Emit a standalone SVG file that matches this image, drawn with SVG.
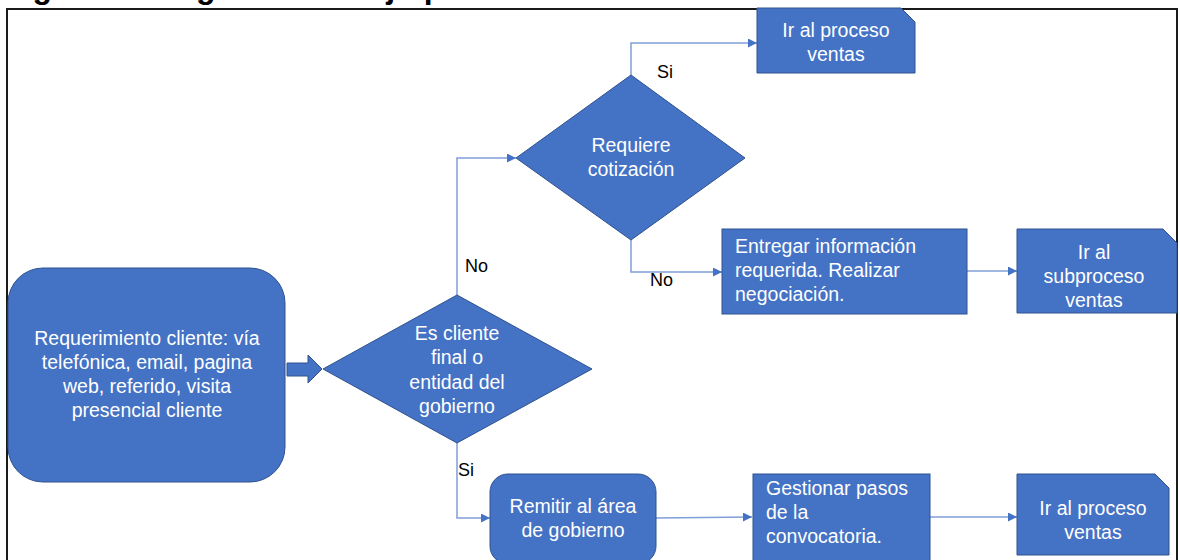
<svg xmlns="http://www.w3.org/2000/svg" width="1180" height="560" viewBox="0 0 1180 560">
  <style>
    .shape { fill: #4472C4; stroke: #2F528F; stroke-width: 1; }
    .txt { font-family: "Liberation Sans", Arial, sans-serif; font-size: 19.5px; fill: #FFFFFF; }
    .mid { text-anchor: middle; }
    .lbl { font-family: "Liberation Sans", Arial, sans-serif; font-size: 18px; fill: #000000; }
    .conn { fill: none; stroke: #7F9FD8; stroke-width: 1.5; }
    .title { font-family: "Liberation Sans", Arial, sans-serif; font-size: 32px; font-weight: bold; fill: #000000; }
  </style>
  <defs>
    <marker id="arrow" viewBox="0 0 10 10" refX="10" refY="5" markerWidth="10" markerHeight="9" markerUnits="userSpaceOnUse" orient="auto">
      <path d="M0,0 L10,5 L0,10 z" fill="#4472C4"/>
    </marker>
  </defs>

  <rect width="1180" height="560" fill="#FFFFFF"/>

  <!-- caption above the frame -->
  <text class="title" x="4" y="-2">Figura 1. Diagrama de flujo proceso</text>

  <!-- outer frame -->
  <path d="M7,562 L7,9 L1177,9 L1177,562" fill="none" stroke="#1A1A1A" stroke-width="2"/>

  <!-- connectors -->
  <g id="connectors">
    <path class="conn" d="M457,295 L457,158 L516,158" marker-end="url(#arrow)"/>
    <path class="conn" d="M631,75 L631,43 L757,43" marker-end="url(#arrow)"/>
    <path class="conn" d="M631,240 L631,272 L722,272" marker-end="url(#arrow)"/>
    <path class="conn" d="M967,271 L1017,271" marker-end="url(#arrow)"/>
    <path class="conn" d="M457,443 L457,518 L490,518" marker-end="url(#arrow)"/>
    <path class="conn" d="M656,518 L752,517" marker-end="url(#arrow)"/>
    <path class="conn" d="M930,517 L1017,517" marker-end="url(#arrow)"/>
    <text class="lbl" x="465" y="272">No</text>
    <text class="lbl" x="650" y="286">No</text>
    <text class="lbl" x="657" y="78">Si</text>
    <text class="lbl" x="458" y="476">Si</text>
  </g>

  <!-- start: customer request -->
  <g id="requerimiento">
    <rect class="shape" x="8" y="268" width="277" height="214" rx="35" ry="35"/>
    <text class="txt mid" x="147" y="345">Requerimiento cliente: vía</text>
    <text class="txt mid" x="147" y="369">telefónica, email, pagina</text>
    <text class="txt mid" x="147" y="393">web, referido, visita</text>
    <text class="txt mid" x="147" y="417">presencial cliente</text>
  </g>

  <!-- block arrow into first decision -->
  <g id="flecha">
    <path class="shape" d="M287,363 L308,363 L308,355 L322,369 L308,383 L308,376 L287,376 z"/>
  </g>

  <!-- decision: end customer or government -->
  <g id="decision-cliente">
    <path class="shape" d="M323,369 L457,295 L592,369 L457,443 z"/>
    <text class="txt mid" x="457" y="340">Es cliente</text>
    <text class="txt mid" x="457" y="364">final o</text>
    <text class="txt mid" x="457" y="389">entidad del</text>
    <text class="txt mid" x="457" y="413">gobierno</text>
  </g>

  <!-- decision: quotation needed -->
  <g id="decision-cotizacion">
    <path class="shape" d="M516,158 L631,75 L745,158 L631,240 z"/>
    <text class="txt mid" x="631" y="152">Requiere</text>
    <text class="txt mid" x="631" y="176">cotización</text>
  </g>

  <!-- go to sales process (top) -->
  <g id="ventas-1">
    <path class="shape" d="M757,8 L901,8 L915,22 L915,73 L757,73 z"/>
    <text class="txt mid" x="836" y="37">Ir al proceso</text>
    <text class="txt mid" x="836" y="61">ventas</text>
  </g>

  <!-- deliver information -->
  <g id="entregar">
    <rect class="shape" x="722" y="229" width="245" height="85"/>
    <text class="txt" x="735" y="253">Entregar información</text>
    <text class="txt" x="735" y="277">requerida. Realizar</text>
    <text class="txt" x="735" y="301">negociación.</text>
  </g>

  <!-- go to sales subprocess -->
  <g id="subproceso">
    <path class="shape" d="M1017,229 L1163,229 L1177,243 L1177,313 L1017,313 z"/>
    <text class="txt mid" x="1094" y="259">Ir al</text>
    <text class="txt mid" x="1094" y="283">subproceso</text>
    <text class="txt mid" x="1094" y="307">ventas</text>
  </g>

  <!-- forward to government area -->
  <g id="remitir">
    <rect class="shape" x="490" y="474" width="166" height="90" rx="18" ry="18"/>
    <text class="txt mid" x="573" y="513">Remitir al área</text>
    <text class="txt mid" x="573" y="537">de gobierno</text>
  </g>

  <!-- manage call steps -->
  <g id="gestionar">
    <rect class="shape" x="753" y="474" width="177" height="90"/>
    <text class="txt" x="766" y="495">Gestionar pasos</text>
    <text class="txt" x="766" y="519">de la</text>
    <text class="txt" x="766" y="543">convocatoria.</text>
  </g>

  <!-- go to sales process (bottom) -->
  <g id="ventas-2">
    <path class="shape" d="M1017,474 L1155,474 L1169,488 L1169,555 L1017,555 z"/>
    <text class="txt mid" x="1093" y="515">Ir al proceso</text>
    <text class="txt mid" x="1093" y="539">ventas</text>
  </g>
</svg>
